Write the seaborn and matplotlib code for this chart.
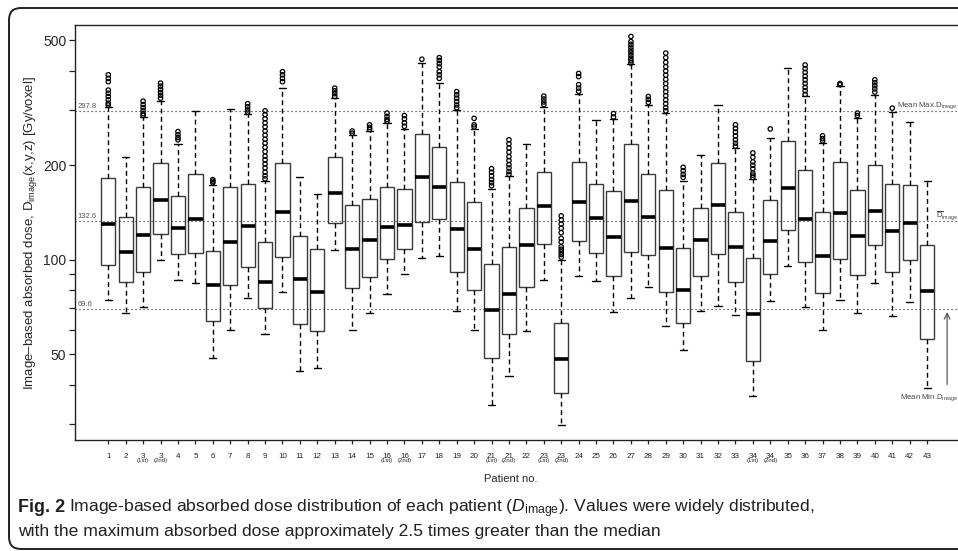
import numpy as np
import pandas as pd
import matplotlib
matplotlib.use("Agg")
import matplotlib.pyplot as plt
import matplotlib.transforms as mtransforms
from matplotlib.patches import FancyBboxPatch
from matplotlib import font_manager
import seaborn as sns

# ---------------- data ----------------
patients = ["1", "2", "3", "3", "4", "5", "6", "7", "8", "9", "10", "11", "12", "13",
            "14", "15", "16", "16", "17", "18", "19", "20", "21", "21", "22", "23", "23",
            "24", "25", "26", "27", "28", "29", "30", "31", "32", "33", "34", "34", "35",
            "36", "37", "38", "39", "40", "41", "42", "43"]
visits = ["", "", "(1st)", "(2nd)", "", "", "", "", "", "", "", "", "", "",
          "", "", "(1st)", "(2nd)", "", "", "", "", "(1st)", "(2nd)", "", "(1st)", "(2nd)",
          "", "", "", "", "", "", "", "", "", "", "(1st)", "(2nd)", "",
          "", "", "", "", "", "", "", ""]

whisker_low = [74.5, 67.5, 70.9, 99.6, 86.5, 84.2, 48.6, 59.9, 75.4, 58.2, 78.8, 44.4,
               45.1, 107.5, 59.6, 67.5, 77.6, 89.9, 101.6, 103.1, 68.9, 59.9, 34.5, 42.8,
               59.5, 86.5, 29.9, 88.6, 85.6, 68.0, 75.4, 82.1, 61.6, 51.5, 68.9, 71.4,
               66.9, 36.8, 73.8, 95.3, 70.6, 59.8, 74.5, 67.5, 84.6, 66.4, 73.6, 39.2]
q1 = [96.3, 85.2, 91.4, 120.8, 104.1, 105.4, 63.9, 82.9, 94.6, 70.4, 101.8, 62.6,
      59.3, 130.7, 81.1, 88.4, 100.6, 108.0, 132.0, 134.6, 91.2, 80.2, 48.8, 58.2,
      82.1, 112.0, 37.8, 114.8, 105.1, 88.6, 106.2, 103.6, 79.0, 63.1, 89.0, 104.1,
      85.0, 47.7, 90.1, 124.1, 98.2, 78.6, 100.4, 89.5, 111.5, 91.7, 99.9, 56.1]
median = [130.0, 105.9, 119.7, 154.7, 126.0, 134.6, 82.9, 114.0, 128.1, 85.2, 142.3, 86.9,
          79.2, 162.8, 108.0, 115.9, 126.9, 128.8, 183.1, 170.9, 125.7, 108.0, 69.4, 77.8,
          111.5, 148.8, 48.2, 153.2, 136.2, 118.5, 154.4, 136.6, 109.0, 80.4, 115.3, 149.0,
          109.8, 67.4, 115.1, 169.7, 134.9, 102.9, 140.6, 119.1, 143.1, 123.2, 131.0, 79.8]
q3 = [181.7, 136.8, 170.1, 203.4, 160.0, 187.6, 106.9, 170.9, 174.0, 114.0, 203.9, 118.8,
      108.2, 212.0, 149.4, 156.6, 170.1, 168.5, 252.2, 228.7, 176.5, 153.2, 97.0, 110.1,
      146.5, 189.9, 62.8, 205.4, 174.8, 166.0, 233.8, 188.2, 167.2, 109.3, 146.5, 203.4,
      142.3, 101.3, 154.7, 238.4, 192.7, 142.0, 204.4, 167.2, 200.9, 174.4, 172.7, 111.2]
whisker_high = [307.4, 212.0, 284.3, 320.4, 234.4, 298.5, 173.1, 302.2, 290.6, 178.6, 353.4,
                183.5, 162.4, 328.3, 249.8, 257.2, 272.7, 260.3, 422.5, 364.8, 300.7, 261.0,
                168.1, 185.4, 234.4, 305.9, 99.6, 338.1, 278.1, 280.8, 419.3, 311.2, 294.3,
                178.6, 215.6, 311.2, 226.5, 180.9, 243.8, 407.3, 331.7, 235.5, 358.6, 282.2,
                335.0, 296.4, 274.7, 178.6]
outliers = [
    [388, 378, 369, 347, 339, 331, 323, 315, 311], [],
    [320, 312, 305, 298, 292, 288], [365, 357, 349, 341, 334, 327],
    [256, 250, 245, 241], [], [180, 178, 176], [], [314, 307, 300, 295],
    [298, 290, 281, 273, 265, 257, 249, 242, 235, 228, 221, 214, 208, 202, 196, 190, 185, 181],
    [397, 388, 378, 369], [], [], [352, 345, 338, 331], [257, 253], [269, 264, 260],
    [293, 286, 280, 276], [288, 281, 273, 266], [435], [440, 431, 421, 411, 397, 388, 378],
    [343, 335, 327, 319, 311, 305], [282, 269, 265], [195, 190, 185, 180, 176, 172],
    [241, 234, 227, 220, 213, 207, 201, 196, 191, 187], [], [332, 325, 318, 312],
    [138, 134, 130, 126, 122, 117, 114, 110, 108, 106, 104, 102],
    [392, 383, 361, 352, 344], [], [292, 285],
    [514, 495, 485, 475, 465, 456, 447, 438, 430, 423], [331, 324, 317],
    [455, 440, 425, 412, 399, 387, 375, 364, 353, 343, 333, 323, 314, 305, 298],
    [197, 192, 187, 183], [], [], [269, 262, 255, 248, 241, 235, 230],
    [219, 212, 205, 200, 195, 189, 186, 183], [261], [],
    [417, 406, 395, 384, 374, 364, 354, 345, 336], [248, 243, 239], [364, 361],
    [293, 288], [374, 366, 358, 350, 342], [304], [], []]

ref_values = [297.8, 132.6, 69.6]
ref_labels = ["297.8", "132.6", "69.6"]
y_major = [50, 100, 200, 500]
y_minor = [30, 40, 60, 70, 80, 90, 300, 400]

# ---------------- style ----------------
sns.set_style("ticks")
names = {f.name for f in font_manager.fontManager.ttflist}
base_font = "Liberation Sans" if "Liberation Sans" in names else "DejaVu Sans"
cap_font = "Liberation Sans Narrow" if "Liberation Sans Narrow" in names else base_font
plt.rcParams["font.family"] = [base_font, "DejaVu Sans"]
plt.rcParams["mathtext.fontset"] = "custom"
plt.rcParams["mathtext.rm"] = base_font
plt.rcParams["mathtext.it"] = base_font + ":italic"
plt.rcParams["mathtext.bf"] = base_font + ":bold"

W, H = 958, 551
fig = plt.figure(figsize=(W / 100, H / 100), dpi=100)
ax = fig.add_axes([75 / W, 1 - 440 / H, (960 - 75) / W, (440 - 25) / H])
ax.set_yscale("log")

keys = [f"{p} {v}".strip() for p, v in zip(patients, visits)]
rows = []
for k, a, b, c, d, e in zip(keys, whisker_low, q1, median, q3, whisker_high):
    for val in (a, b, c, d, e):
        rows.append({"box": k, "dose": val})
df = pd.DataFrame(rows)

sns.boxplot(data=df, x="box", y="dose", order=keys, whis=(0, 100), width=0.82,
            color="white", linecolor="#3a3a3a", linewidth=1.0, fliersize=0, ax=ax,
            medianprops=dict(color="black", linewidth=2.6),
            whiskerprops=dict(color="black", linewidth=1.0, linestyle=(0, (3.5, 2.5))),
            capprops=dict(color="black", linewidth=1.0))

fl = pd.DataFrame([{"pos": i, "dose": v} for i, vals in enumerate(outliers) for v in vals])
sns.scatterplot(data=fl, x="pos", y="dose", marker="o", s=10, facecolor="none",
                edgecolor="black", linewidth=0.9, ax=ax, zorder=4)

blend = mtransforms.blended_transform_factory(ax.transAxes, ax.transData)
for v, lab in zip(ref_values, ref_labels):
    ax.axhline(v, color="#222222", lw=0.8, ls=(0, (1, 2.6)), zorder=5)
    ax.text(0.003, v * 1.01, lab, transform=blend, fontsize=5.5, color="#555555",
            ha="left", va="bottom", zorder=6)

ax.set_xlim(-1.91, 48.89)
ax.set_ylim(26.7, 559)
ax.set_yticks(y_major)
ax.set_yticklabels([str(t) for t in y_major], fontsize=10)
ax.set_yticks(y_minor, minor=True)
ax.yaxis.set_minor_formatter(matplotlib.ticker.NullFormatter())
ax.tick_params(axis="y", which="both", length=4.3, width=0.9, color="#222222", pad=2)
ax.set_xticks(range(len(patients)))
ax.set_xticklabels(patients, fontsize=5.8)
ax.tick_params(axis="x", length=3, width=0.9, color="#222222", pad=6)
xblend = mtransforms.blended_transform_factory(ax.transData, ax.transAxes)
for i, v in enumerate(visits):
    if v:
        ax.text(i, -(458 - 440) / 415, v, transform=xblend, fontsize=4.3,
                ha="center", va="top")

for s in ax.spines.values():
    s.set_color("#222222")
    s.set_linewidth(1.0)

ax.set_ylabel(r"Image–based absorbed dose, D$_{\mathrm{image}}$(x,y,z) [Gy/voxel]",
              fontsize=9.5)
ax.yaxis.set_label_coords(-0.041, 0.5)
ax.set_xlabel("Patient no.", fontsize=8)
ax.xaxis.set_label_coords((511 - 75) / 885, -(474 - 440) / 415)

# right-hand annotations
fig.text(897 / W, 1 - 106 / H, r"Mean Max.D$_{\mathrm{image}}$", fontsize=5.6,
         color="#444444", ha="left", va="center")
fig.text(936 / W, 1 - 216 / H, r"$\overline{\mathrm{D}}_{\mathrm{image}}$", fontsize=5.6,
         color="#444444", ha="left", va="center")
fig.text(900 / W, 1 - 398 / H, r"Mean Min.D$_{\mathrm{image}}$", fontsize=5.6,
         color="#444444", ha="left", va="center")
ax.annotate("", xy=(48.15, ref_values[2]), xytext=(48.15, 39.3),
            arrowprops=dict(arrowstyle="->", color="#555555", lw=0.9), annotation_clip=False)

# outer rounded frame
frame = FancyBboxPatch((9, 2), 1000, 541, boxstyle="round,pad=0,rounding_size=12",
                       transform=mtransforms.IdentityTransform(), fc="none",
                       ec="#222222", lw=1.4)
fig.add_artist(frame)

# caption
t1 = fig.text(18 / W, 1 - 512 / H, "Fig. 2", fontsize=13, fontweight="bold",
              family=cap_font, va="baseline", color="#231f20")
fig.canvas.draw()
bb = t1.get_window_extent(fig.canvas.get_renderer())
fig.text((bb.x1 + 4) / W, 1 - 512 / H,
         r"Image-based absorbed dose distribution of each patient ($\mathit{D}_{\mathrm{image}}$). "
         "Values were widely distributed,", fontsize=12.6, family=cap_font, va="baseline",
         color="#231f20")
fig.text(18 / W, 1 - 536 / H,
         "with the maximum absorbed dose approximately 2.5 times greater than the median",
         fontsize=12.6, family=cap_font, va="baseline", color="#231f20")

fig.savefig("out.png", dpi=100)
